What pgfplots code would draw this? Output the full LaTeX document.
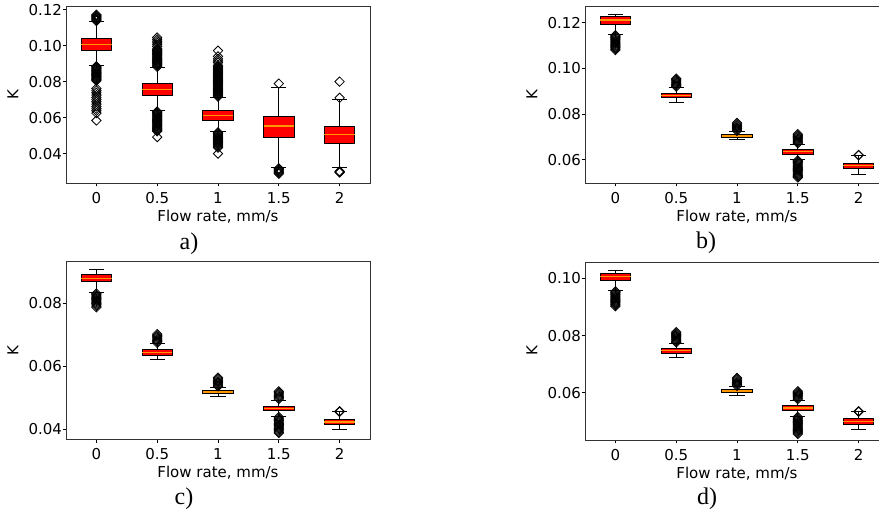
\documentclass[border=0pt]{standalone}
\usepackage{fontspec}
\setmainfont{DejaVu Sans}
\newfontfamily\capfont{Liberation Serif}
\usepackage{pgfplots}
\pgfplotsset{compat=1.18}
\usepgfplotslibrary{statistics}
\definecolor{medc}{RGB}{255,150,0}
\pgfplotsset{
  kbox/.style={
    scale only axis, width=304pt, height=177pt,
    xmin=-0.5, xmax=4.5,
    xtick={0,1,2,3,4}, xticklabels={0,0.5,1,1.5,2},
    tick align=outside, tick pos=left,
    major tick length=3.5pt,
    tick style={black, line width=0.8pt},
    /pgf/number format/assume math mode=true,
    yticklabel style={/pgf/number format/fixed, /pgf/number format/fixed zerofill, /pgf/number format/precision=2, xshift=3pt},
    xticklabel style={yshift=-2.5pt},
    scaled y ticks=false,
    ticklabel style={font=\fontsize{15}{17}\selectfont},
    xlabel={Flow rate, mm/s}, ylabel={K},
    every axis x label/.style={at={(axis description cs:0.5,0)}, yshift=-33.5pt, anchor=center, font=\fontsize{15}{17}\selectfont},
    every axis y label/.style={at={(axis description cs:0,0.5)}, xshift=-53pt, rotate=90, anchor=center, font=\fontsize{15}{17}\selectfont},
    axis line style={black!80, line width=0.8pt},
  },
  kplot/.style={
    draw=black, line width=0.8pt,
    mark=square, mark size=3.3pt,
    mark options={rotate=45, draw=black, fill=none, line width=0.8pt, solid},
    boxplot/draw direction=y,
    boxplot/box extend=0.5,
    boxplot/whisker extend=0.25,
    boxplot/every box/.style={fill=red, draw=black, line width=0.8pt},
    boxplot/every median/.style={draw=medc, line width=1.2pt},
    boxplot/every whisker/.style={draw=black, line width=0.8pt},
  },
}
\begin{document}
\begin{tikzpicture}
\useasboundingbox (0,0) rectangle (879pt,513pt);
\clip (0,0) rectangle (879pt,513pt);

% ---------------- a) ----------------
\begin{axis}[kbox, at={(66pt,330pt)}, anchor=south west,
  ymin=0.0237, ymax=0.122, ytick={0.04,0.06,0.08,0.10,0.12}]
\addplot[kplot, boxplot prepared={draw position=0, lower whisker=0.0890, lower quartile=0.0976, median=0.1007, upper quartile=0.1040, upper whisker=0.1133}]
 table[row sep=\\, y index=0]{data\\ 0.1137\\ 0.1142\\ 0.1147\\ 0.1152\\ 0.1157\\ 0.1162\\ 0.1167\\ 0.1172\\
 0.0885\\ 0.0880\\ 0.0875\\ 0.0870\\ 0.0865\\ 0.0860\\ 0.0855\\ 0.0850\\ 0.0845\\ 0.0840\\ 0.0835\\ 0.0830\\ 0.0825\\ 0.0820\\ 0.0815\\ 0.0810\\ 0.0805\\
 0.0762\\ 0.0750\\ 0.0738\\ 0.0725\\ 0.0712\\ 0.0700\\ 0.0688\\ 0.0675\\ 0.0662\\ 0.0650\\ 0.0638\\ 0.0625\\ 0.0584\\};
\addplot[kplot, boxplot prepared={draw position=1, lower whisker=0.0638, lower quartile=0.0726, median=0.0757, upper quartile=0.0789, upper whisker=0.0878}]
 table[row sep=\\, y index=0]{data\\ 0.0882\\ 0.0887\\ 0.0892\\ 0.0897\\ 0.0902\\ 0.0907\\ 0.0912\\ 0.0917\\ 0.0922\\ 0.0927\\ 0.0932\\ 0.0937\\ 0.0942\\ 0.0947\\ 0.0952\\ 0.0957\\ 0.0962\\ 0.0967\\ 0.0972\\ 0.0977\\ 0.0982\\
 0.0995\\ 0.1005\\ 0.1015\\ 0.1025\\ 0.1035\\ 0.1045\\
 0.0634\\ 0.0629\\ 0.0624\\ 0.0619\\ 0.0614\\ 0.0609\\ 0.0604\\ 0.0599\\ 0.0594\\ 0.0589\\ 0.0584\\ 0.0579\\ 0.0574\\ 0.0569\\ 0.0564\\ 0.0559\\ 0.0554\\ 0.0549\\ 0.0544\\ 0.0539\\ 0.0534\\ 0.0529\\ 0.0524\\ 0.0492\\};
\addplot[kplot, boxplot prepared={draw position=2, lower whisker=0.0522, lower quartile=0.0587, median=0.0614, upper quartile=0.0638, upper whisker=0.0712}]
 table[row sep=\\, y index=0]{data\\ 0.0716\\ 0.0721\\ 0.0726\\ 0.0731\\ 0.0736\\ 0.0741\\ 0.0746\\ 0.0751\\ 0.0756\\ 0.0761\\ 0.0766\\ 0.0771\\ 0.0776\\ 0.0781\\ 0.0786\\ 0.0791\\ 0.0796\\ 0.0801\\ 0.0806\\ 0.0811\\ 0.0816\\ 0.0821\\ 0.0826\\ 0.0831\\ 0.0836\\ 0.0841\\ 0.0846\\ 0.0851\\ 0.0856\\ 0.0861\\ 0.0866\\ 0.0871\\ 0.0876\\ 0.0881\\ 0.0886\\ 0.0891\\
 0.0905\\ 0.0915\\ 0.0926\\ 0.0940\\ 0.0972\\
 0.0518\\ 0.0513\\ 0.0508\\ 0.0503\\ 0.0498\\ 0.0493\\ 0.0488\\ 0.0483\\ 0.0478\\ 0.0473\\ 0.0468\\ 0.0463\\ 0.0458\\ 0.0453\\ 0.0448\\ 0.0443\\ 0.0438\\ 0.0433\\ 0.0400\\};
\addplot[kplot, boxplot prepared={draw position=3, lower whisker=0.0322, lower quartile=0.0491, median=0.0554, upper quartile=0.0607, upper whisker=0.0768}]
 table[row sep=\\, y index=0]{data\\ 0.0789\\ 0.0318\\ 0.0313\\ 0.0308\\ 0.0303\\ 0.0298\\ 0.0293\\ 0.0288\\};
\addplot[kplot, boxplot prepared={draw position=4, lower whisker=0.0322, lower quartile=0.0457, median=0.0507, upper quartile=0.0554, upper whisker=0.0703}]
 table[row sep=\\, y index=0]{data\\ 0.0710\\ 0.0800\\ 0.0302\\ 0.0298\\ 0.0295\\};
\end{axis}

% ---------------- b) ----------------
\begin{axis}[kbox, at={(585pt,330pt)}, anchor=south west,
  ymin=0.0498, ymax=0.1273, ytick={0.06,0.08,0.10,0.12}]
\addplot[kplot, boxplot prepared={draw position=0, lower whisker=0.1149, lower quartile=0.1193, median=0.1212, upper quartile=0.1226, upper whisker=0.1236}]
 table[row sep=\\, y index=0]{data\\ 0.1145\\ 0.1140\\ 0.1135\\ 0.1130\\ 0.1125\\ 0.1120\\ 0.1115\\ 0.1110\\ 0.1105\\ 0.1100\\ 0.1095\\ 0.1090\\ 0.1085\\ 0.1080\\};
\addplot[kplot, boxplot prepared={draw position=1, lower whisker=0.0850, lower quartile=0.0872, median=0.0880, upper quartile=0.0890, upper whisker=0.0917}]
 table[row sep=\\, y index=0]{data\\ 0.0920\\ 0.0925\\ 0.0930\\ 0.0935\\ 0.0940\\ 0.0945\\ 0.0950\\ 0.0955\\};
\addplot[kplot, boxplot prepared={draw position=2, lower whisker=0.0689, lower quartile=0.0698, median=0.0704, upper quartile=0.0711, upper whisker=0.0723}]
 table[row sep=\\, y index=0]{data\\ 0.0726\\ 0.0731\\ 0.0736\\ 0.0741\\ 0.0746\\ 0.0751\\ 0.0756\\ 0.0761\\};
\addplot[kplot, boxplot prepared={draw position=3, lower whisker=0.0601, lower quartile=0.0625, median=0.0635, upper quartile=0.0645, upper whisker=0.0669}]
 table[row sep=\\, y index=0]{data\\ 0.0672\\ 0.0677\\ 0.0682\\ 0.0687\\ 0.0692\\ 0.0697\\ 0.0702\\ 0.0707\\ 0.0712\\
 0.0597\\ 0.0592\\ 0.0587\\ 0.0582\\ 0.0577\\ 0.0572\\ 0.0567\\ 0.0562\\ 0.0557\\ 0.0552\\ 0.0547\\ 0.0542\\ 0.0537\\ 0.0532\\ 0.0527\\ 0.0522\\};
\addplot[kplot, boxplot prepared={draw position=4, lower whisker=0.0536, lower quartile=0.0562, median=0.0574, upper quartile=0.0584, upper whisker=0.0617}]
 table[row sep=\\, y index=0]{data\\ 0.0619\\ 0.0621\\};
\end{axis}

% ---------------- c) ----------------
\begin{axis}[kbox, at={(66pt,73.7pt)}, anchor=south west, height=177.6pt,
  ymin=0.0368, ymax=0.0932, ytick={0.04,0.06,0.08}]
\addplot[kplot, boxplot prepared={draw position=0, lower whisker=0.0834, lower quartile=0.0868, median=0.0879, upper quartile=0.0893, upper whisker=0.0906}]
 table[row sep=\\, y index=0]{data\\ 0.0831\\ 0.0827\\ 0.0823\\ 0.0819\\ 0.0815\\ 0.0811\\ 0.0807\\ 0.0803\\ 0.0799\\ 0.0795\\ 0.0791\\ 0.0787\\};
\addplot[kplot, boxplot prepared={draw position=1, lower whisker=0.0622, lower quartile=0.0636, median=0.0643, upper quartile=0.0652, upper whisker=0.0671}]
 table[row sep=\\, y index=0]{data\\ 0.0674\\ 0.0678\\ 0.0682\\ 0.0686\\ 0.0690\\ 0.0694\\ 0.0698\\ 0.0702\\};
\addplot[kplot, boxplot prepared={draw position=2, lower whisker=0.0504, lower quartile=0.0513, median=0.0518, upper quartile=0.0524, upper whisker=0.0533}]
 table[row sep=\\, y index=0]{data\\ 0.0536\\ 0.0540\\ 0.0544\\ 0.0548\\ 0.0552\\ 0.0556\\ 0.0560\\ 0.0564\\};
\addplot[kplot, boxplot prepared={draw position=3, lower whisker=0.0442, lower quartile=0.0459, median=0.0467, upper quartile=0.0474, upper whisker=0.0493}]
 table[row sep=\\, y index=0]{data\\ 0.0496\\ 0.0500\\ 0.0504\\ 0.0508\\ 0.0512\\ 0.0516\\ 0.0520\\
 0.0439\\ 0.0435\\ 0.0431\\ 0.0427\\ 0.0423\\ 0.0419\\ 0.0415\\ 0.0411\\ 0.0407\\ 0.0403\\ 0.0399\\ 0.0395\\ 0.0391\\ 0.0388\\};
\addplot[kplot, boxplot prepared={draw position=4, lower whisker=0.0398, lower quartile=0.0415, median=0.0423, upper quartile=0.0432, upper whisker=0.0455}]
 table[row sep=\\, y index=0]{data\\ 0.0455\\ 0.0457\\};
\end{axis}

% ---------------- d) ----------------
\begin{axis}[kbox, at={(585pt,73pt)}, anchor=south west, height=178pt,
  ymin=0.0434, ymax=0.1058, ytick={0.06,0.08,0.10}]
\addplot[kplot, boxplot prepared={draw position=0, lower whisker=0.0959, lower quartile=0.0994, median=0.1008, upper quartile=0.1017, upper whisker=0.1029}]
 table[row sep=\\, y index=0]{data\\ 0.0955\\ 0.0951\\ 0.0947\\ 0.0943\\ 0.0939\\ 0.0935\\ 0.0931\\ 0.0927\\ 0.0923\\ 0.0919\\ 0.0915\\ 0.0911\\ 0.0907\\ 0.0903\\};
\addplot[kplot, boxplot prepared={draw position=1, lower whisker=0.0723, lower quartile=0.0738, median=0.0748, upper quartile=0.0755, upper whisker=0.0773}]
 table[row sep=\\, y index=0]{data\\ 0.0776\\ 0.0780\\ 0.0784\\ 0.0788\\ 0.0792\\ 0.0796\\ 0.0800\\ 0.0804\\ 0.0808\\ 0.0812\\};
\addplot[kplot, boxplot prepared={draw position=2, lower whisker=0.0592, lower quartile=0.0600, median=0.0606, upper quartile=0.0610, upper whisker=0.0621}]
 table[row sep=\\, y index=0]{data\\ 0.0624\\ 0.0628\\ 0.0632\\ 0.0636\\ 0.0640\\ 0.0644\\ 0.0648\\ 0.0652\\};
\addplot[kplot, boxplot prepared={draw position=3, lower whisker=0.0518, lower quartile=0.0537, median=0.0546, upper quartile=0.0555, upper whisker=0.0574}]
 table[row sep=\\, y index=0]{data\\ 0.0577\\ 0.0581\\ 0.0585\\ 0.0589\\ 0.0593\\ 0.0597\\ 0.0601\\ 0.0605\\
 0.0515\\ 0.0511\\ 0.0507\\ 0.0503\\ 0.0499\\ 0.0495\\ 0.0491\\ 0.0487\\ 0.0483\\ 0.0479\\ 0.0475\\ 0.0471\\ 0.0467\\ 0.0463\\ 0.0459\\ 0.0455\\};
\addplot[kplot, boxplot prepared={draw position=4, lower whisker=0.0470, lower quartile=0.0489, median=0.0499, upper quartile=0.0508, upper whisker=0.0533}]
 table[row sep=\\, y index=0]{data\\ 0.0533\\ 0.0535\\};
\end{axis}

\node[font=\capfont\fontsize{24}{28}\selectfont] at (189pt,269pt) {a)};
\node[font=\capfont\fontsize{24}{28}\selectfont] at (706pt,270pt) {b)};
\node[font=\capfont\fontsize{24}{28}\selectfont] at (184pt,14pt) {c)};
\node[font=\capfont\fontsize{24}{28}\selectfont] at (707pt,14pt) {d)};
\end{tikzpicture}
\end{document}
